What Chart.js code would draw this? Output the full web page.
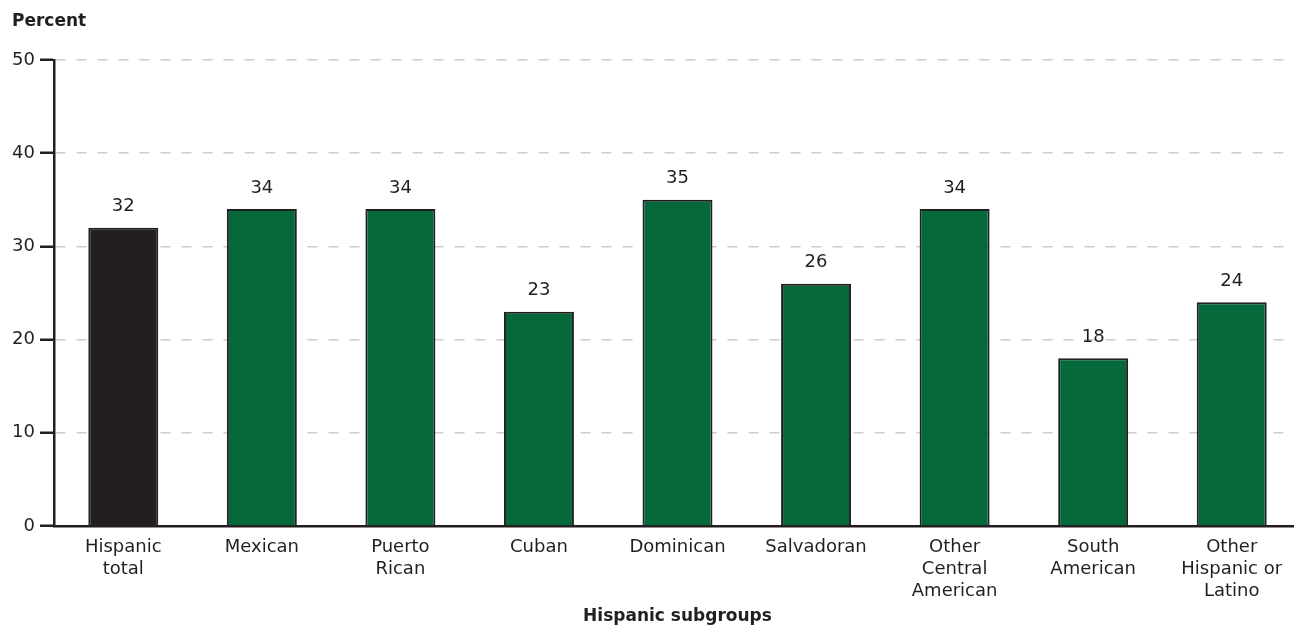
<!DOCTYPE html>
<html>
<head>
<meta charset="utf-8">
<script src="https://cdn.jsdelivr.net/npm/chart.js@4/dist/chart.umd.min.js"></script>
<style>
    html, body { margin: 0; padding: 0; background: #fff; overflow: hidden; }
    #wrap { width: 1302px; height: 627px; position: relative; }
</style>
</head>
<body>
<div id="wrap"><canvas id="chart-subgroups"></canvas></div>
<script>
const categories = [
    ["Hispanic", "total"],
    "Mexican",
    ["Puerto", "Rican"],
    "Cuban",
    "Dominican",
    "Salvadoran",
    ["Other", "Central", "American"],
    ["South", "American"],
    ["Other", "Hispanic or", "Latino"],
];
const values = [32, 34, 34, 23, 35, 26, 34, 18, 24];
const yTicks = [0, 10, 20, 30, 40, 50];

const ink = "#231f20";
const green = "#05683a";
const fontFamily = "'DejaVu Sans', sans-serif";

// numbers above each bar
const valueLabels = {
    id: "valueLabels",
    afterDatasetsDraw(chart) {
        const ctx = chart.ctx;
        const meta = chart.getDatasetMeta(0);
        ctx.save();
        ctx.font = "18px " + fontFamily;
        ctx.fillStyle = ink;
        ctx.textAlign = "center";
        ctx.textBaseline = "bottom";
        meta.data.forEach((bar, i) => {
            ctx.fillText(values[i], bar.x, bar.y - 12);
        });
        ctx.restore();
    },
};

const ctx = document.getElementById("chart-subgroups").getContext("2d");

const chart = new Chart(ctx, {
    type: "bar",
    data: {
        labels: categories,
        datasets: [
            {
                label: "Percent",
                data: values,
                backgroundColor: values.map((v, i) => (i === 0 ? ink : green)),
                borderColor: ink,
                borderWidth: 2,
                borderSkipped: "bottom",
                barPercentage: 0.505,
                categoryPercentage: 1,
            },
        ],
    },
    options: {
        responsive: true,
        maintainAspectRatio: false,
        animation: false,
        layout: {
            padding: { left: 12, right: 1, top: 0, bottom: 0 },
        },
        plugins: {
            legend: { display: false },
            tooltip: { enabled: false },
            title: {
                display: true,
                text: "Percent",
                align: "start",
                color: ink,
                font: { family: fontFamily, size: 17, weight: "bold" },
                padding: { top: 11, bottom: 28.6 },
            },
        },
        scales: {
            x: {
                afterFit: (scale) => {
                    scale.height = 101;
                },
                grid: { display: false, drawTicks: false },
                border: { color: ink, width: 2.5 },
                ticks: {
                    color: ink,
                    font: { family: fontFamily, size: 18 },
                    padding: 11,
                    maxRotation: 0,
                    autoSkip: false,
                },
                title: {
                    display: true,
                    text: "Hispanic subgroups",
                    color: ink,
                    font: { family: fontFamily, size: 17, weight: "bold" },
                    padding: { top: 0, bottom: 0 },
                },
            },
            y: {
                min: 0,
                max: 50,
                afterBuildTicks: (scale) => {
                    scale.ticks = yTicks.map((v) => ({ value: v }));
                },
                afterFit: (scale) => {
                    scale.width = 42;
                },
                grid: {
                    color: "#cccccc",
                    lineWidth: 1.5,
                    tickColor: ink,
                    tickWidth: 2.5,
                    tickLength: 14,
                    tickBorderDash: [],
                },
                border: { color: ink, width: 2.5, dash: [10, 11] },
                ticks: {
                    color: ink,
                    font: { family: fontFamily, size: 18 },
                    padding: 5,
                },
            },
        },
    },
    plugins: [valueLabels],
});
</script>
</body>
</html>
